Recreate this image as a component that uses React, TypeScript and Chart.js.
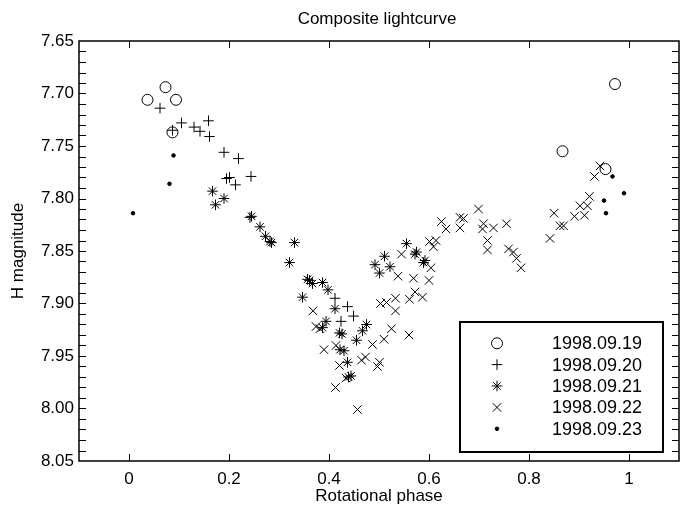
import React, { useEffect, useRef } from "react";
import { Chart, registerables } from "chart.js";
import { drawPoint } from "chart.js/helpers";

Chart.register(...registerables);

const seriesLabels = ["1998.09.19", "1998.09.20", "1998.09.21", "1998.09.22", "1998.09.23"];

const phase19 = [0.037, 0.073, 0.094, 0.087, 0.867, 0.972, 0.953];
const mag19 = [7.706, 7.694, 7.706, 7.737, 7.755, 7.691, 7.772];

const phase20 = [0.062, 0.087, 0.105, 0.13, 0.142, 0.159, 0.161, 0.19, 0.219, 0.195, 0.201, 0.213, 0.244, 0.242, 0.412, 0.437, 0.449, 0.424];
const mag20 = [7.714, 7.735, 7.728, 7.732, 7.736, 7.726, 7.741, 7.756, 7.762, 7.781, 7.78, 7.787, 7.779, 7.818, 7.895, 7.903, 7.912, 7.917];

const phase21 = [0.167, 0.19, 0.173, 0.245, 0.262, 0.273, 0.282, 0.285, 0.331, 0.321, 0.357, 0.361, 0.367, 0.387, 0.398, 0.347, 0.412, 0.394, 0.387, 0.421, 0.426, 0.422, 0.43, 0.437, 0.444, 0.439, 0.455, 0.467, 0.475, 0.511, 0.492, 0.522, 0.501, 0.555, 0.575, 0.572, 0.592, 0.589];
const mag21 = [7.793, 7.8, 7.806, 7.817, 7.827, 7.836, 7.841, 7.842, 7.842, 7.861, 7.877, 7.878, 7.881, 7.88, 7.887, 7.894, 7.905, 7.917, 7.923, 7.928, 7.929, 7.944, 7.945, 7.956, 7.969, 7.97, 7.935, 7.926, 7.92, 7.855, 7.863, 7.865, 7.871, 7.843, 7.851, 7.853, 7.859, 7.861];

const phase22 = [0.368, 0.374, 0.382, 0.39, 0.414, 0.421, 0.434, 0.413, 0.457, 0.473, 0.465, 0.487, 0.501, 0.497, 0.51, 0.525, 0.56, 0.533, 0.503, 0.515, 0.533, 0.572, 0.561, 0.587, 0.538, 0.569, 0.6, 0.604, 0.545, 0.601, 0.614, 0.609, 0.625, 0.634, 0.662, 0.669, 0.662, 0.699, 0.709, 0.707, 0.729, 0.755, 0.717, 0.717, 0.759, 0.769, 0.775, 0.784, 0.842, 0.85, 0.862, 0.869, 0.891, 0.902, 0.917, 0.911, 0.921, 0.931, 0.942];
const mag22 = [7.907, 7.922, 7.924, 7.944, 7.94, 7.959, 7.971, 7.98, 8.001, 7.951, 7.954, 7.939, 7.956, 7.96, 7.934, 7.924, 7.93, 7.907, 7.9, 7.899, 7.895, 7.889, 7.896, 7.894, 7.874, 7.876, 7.878, 7.866, 7.853, 7.841, 7.84, 7.846, 7.822, 7.829, 7.818, 7.819, 7.828, 7.81, 7.824, 7.829, 7.828, 7.824, 7.84, 7.849, 7.848, 7.851, 7.857, 7.866, 7.838, 7.814, 7.826, 7.826, 7.817, 7.807, 7.807, 7.816, 7.798, 7.779, 7.769];

const phase23 = [0.008, 0.089, 0.081, 0.967, 0.99, 0.95, 0.954];
const mag23 = [7.814, 7.759, 7.786, 7.779, 7.795, 7.802, 7.814];

const xTicks = [0, 0.2, 0.4, 0.6, 0.8, 1];
const xTickLabels = ["0", "0.2", "0.4", "0.6", "0.8", "1"];
const yTicks = [7.65, 7.7, 7.75, 7.8, 7.85, 7.9, 7.95, 8.0, 8.05];
const yTickLabels = ["7.65", "7.70", "7.75", "7.80", "7.85", "7.90", "7.95", "8.00", "8.05"];
const yMinorStep = 0.01;

const FONT = "'Liberation Sans', Arial, Helvetica, sans-serif";

const styles = [
  { pointStyle: "circle", radius: 5.5, fill: "rgba(0,0,0,0)" },
  { pointStyle: "cross", radius: 5.3, fill: "rgba(0,0,0,0)" },
  { pointStyle: "star", radius: 5.3, fill: "rgba(0,0,0,0)" },
  { pointStyle: "crossRot", radius: 6, fill: "rgba(0,0,0,0)" },
  { pointStyle: "circle", radius: 1.8, fill: "#000" },
];

function pts(xs: number[], ys: number[]) {
  return xs.map((x, i) => ({ x, y: ys[i] }));
}

const framePlugin = {
  id: "frame",
  afterDatasetsDraw(chart: any) {
    const { ctx, chartArea, scales } = chart;
    const { left, right, top, bottom } = chartArea;
    const xs = scales.x;
    const ys = scales.y;
    ctx.save();
    ctx.strokeStyle = "#000";
    ctx.lineWidth = 1.5;
    ctx.strokeRect(left, top, right - left, bottom - top);
    ctx.lineWidth = 1;
    const tl = 7;
    ctx.beginPath();
    xTicks.forEach((v) => {
      const px = Math.round(xs.getPixelForValue(v)) + 0.5;
      ctx.moveTo(px, bottom);
      ctx.lineTo(px, bottom - tl);
      ctx.moveTo(px, top);
      ctx.lineTo(px, top + tl);
    });
    const n = Math.round((yTicks[yTicks.length - 1] - yTicks[0]) / yMinorStep);
    for (let i = 1; i < n; i++) {
      const v = yTicks[0] + i * yMinorStep;
      const py = Math.round(ys.getPixelForValue(v)) + 0.5;
      ctx.moveTo(left, py);
      ctx.lineTo(left + tl, py);
      ctx.moveTo(right, py);
      ctx.lineTo(right - tl, py);
    }
    ctx.stroke();

    // title
    ctx.fillStyle = "#000";
    ctx.font = `17px ${FONT}`;
    ctx.textAlign = "center";
    ctx.textBaseline = "middle";
    ctx.fillText("Composite lightcurve", (left + right) / 2 - 2, 19);

    // legend
    const bx = 460, by = 322, bw = 203, bh = 130;
    ctx.fillStyle = "#fff";
    ctx.fillRect(bx, by, bw, bh);
    ctx.lineWidth = 2;
    ctx.strokeStyle = "#000";
    ctx.strokeRect(bx, by, bw, bh);
    const rows = [343.3, 364.6, 386, 407.4, 428.8];
    ctx.font = `18px ${FONT}`;
    ctx.textAlign = "left";
    ctx.textBaseline = "middle";
    seriesLabels.forEach((lab, i) => {
      const st = styles[i];
      ctx.save();
      ctx.strokeStyle = "#000";
      ctx.fillStyle = st.fill;
      ctx.lineWidth = 1;
      drawPoint(ctx, { pointStyle: st.pointStyle as any, radius: st.radius, rotation: 0, borderWidth: 1 } as any, 497, rows[i]);
      ctx.restore();
      ctx.fillStyle = "#000";
      ctx.fillText(lab, 552, rows[i] + 1);
    });
    ctx.restore();
  },
};

export default function App() {
  const ref = useRef<HTMLCanvasElement | null>(null);
  useEffect(() => {
    if (!ref.current) return;
    const data = [
      pts(phase19, mag19),
      pts(phase20, mag20),
      pts(phase21, mag21),
      pts(phase22, mag22),
      pts(phase23, mag23),
    ];
    const chart = new Chart(ref.current, {
      type: "scatter",
      data: {
        datasets: data.map((d, i) => ({
          label: seriesLabels[i],
          data: d,
          pointStyle: styles[i].pointStyle as any,
          pointRadius: styles[i].radius,
          pointHoverRadius: styles[i].radius,
          borderColor: "#000",
          backgroundColor: styles[i].fill,
          borderWidth: 1,
          showLine: false,
        })),
      },
      options: {
        animation: false,
        responsive: false,
        devicePixelRatio: 1,
        events: [],
        layout: { padding: { top: 41, right: 11, left: 0, bottom: 0 } },
        plugins: { legend: { display: false }, title: { display: false }, tooltip: { enabled: false } },
        scales: {
          x: {
            type: "linear",
            position: "bottom",
            min: -0.1,
            max: 1.1,
            grid: { display: false, drawTicks: false },
            border: { display: false },
            afterBuildTicks: (s: any) => {
              s.ticks = xTicks.map((v) => ({ value: v }));
            },
            afterFit: (s: any) => {
              s.height = 49;
            },
            ticks: {
              color: "#000",
              font: { family: FONT, size: 17 },
              padding: 8,
              maxRotation: 0,
              autoSkip: false,
              callback: (v: any) => {
                const i = xTicks.findIndex((t) => Math.abs(t - Number(v)) < 1e-9);
                return i >= 0 ? xTickLabels[i] : "";
              },
            },
            title: {
              display: true,
              text: "Rotational phase",
              color: "#000",
              font: { family: FONT, size: 17 },
              padding: { top: 0, bottom: 3 },
            },
          },
          y: {
            type: "linear",
            min: 7.65,
            max: 8.05,
            reverse: true,
            grid: { display: false, drawTicks: false },
            border: { display: false },
            afterBuildTicks: (s: any) => {
              s.ticks = yTicks.map((v) => ({ value: v }));
            },
            afterFit: (s: any) => {
              s.width = 79;
            },
            ticks: {
              color: "#000",
              font: { family: FONT, size: 17 },
              padding: 5,
              autoSkip: false,
              callback: (v: any) => {
                const i = yTicks.findIndex((t) => Math.abs(t - Number(v)) < 1e-9);
                return i >= 0 ? yTickLabels[i] : "";
              },
            },
            title: {
              display: true,
              text: "H magnitude",
              color: "#000",
              font: { family: FONT, size: 17 },
              padding: { top: 8, bottom: 0 },
            },
          },
        },
      },
      plugins: [framePlugin],
    });
    return () => chart.destroy();
  }, []);
  return (
    <div style={{ position: "absolute", left: 0, top: 0, width: 690, height: 510, background: "#fff" }}>
      <canvas ref={ref} width={690} height={510} style={{ width: 690, height: 510 }} />
    </div>
  );
}
